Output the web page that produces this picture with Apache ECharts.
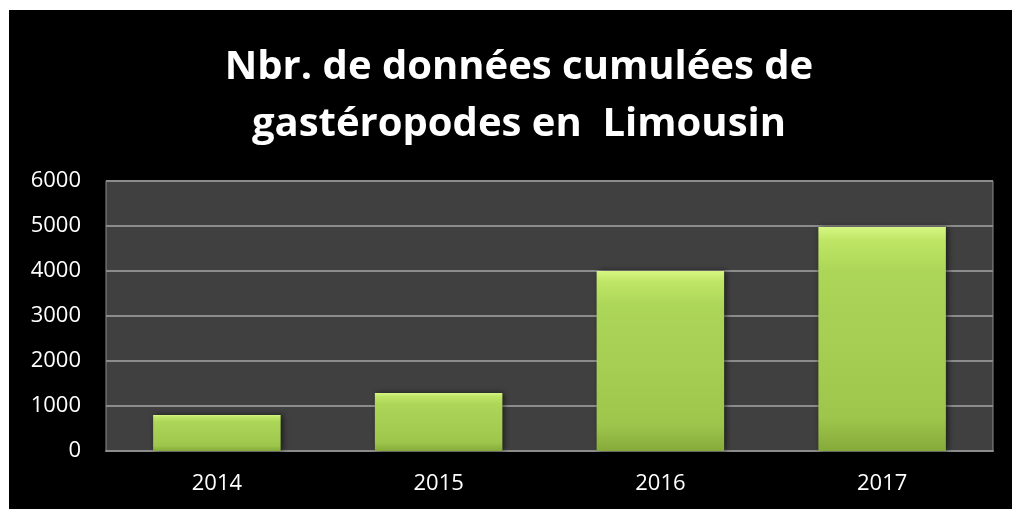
<!DOCTYPE html>
<html>
<head>
<meta charset="utf-8">
<script src="https://cdn.jsdelivr.net/npm/echarts@6/dist/echarts.min.js"></script>
<style>
html,body{margin:0;padding:0;background:#fff;width:1012px;height:509px;overflow:hidden;}
#chart{position:absolute;left:9px;top:10px;width:1003px;height:499px;background:#000;}
</style>
</head>
<body>
<div id="chart"></div>
<script>
var titleLines = ['Nbr. de données cumulées de', 'gastéropodes en  Limousin'];
var categories = ['2014', '2015', '2016', '2017'];
var values = [800, 1290, 4000, 4980];
var yTicks = { min: 0, max: 6000, interval: 1000 };

var chart = echarts.init(document.getElementById('chart'), null, { renderer: 'canvas' });
var barColor = {
  type: 'linear', x: 0, y: 0, x2: 0, y2: 1,
  colorStops: [
    { offset: 0, color: '#d6f784' },
    { offset: 0.06, color: '#bfe565' },
    { offset: 0.2, color: '#acd658' },
    { offset: 0.85, color: '#9ec64c' },
    { offset: 1, color: '#86aa3a' }
  ]
};
chart.setOption({
  backgroundColor: '#000',
  animation: false,
  title: {
    text: titleLines.join('\n'),
    left: 505,
    top: 24,
    textAlign: 'center',
    textStyle: {
      color: '#fff',
      fontFamily: 'Open Sans',
      fontWeight: 'bold',
      fontSize: 40,
      lineHeight: 57
    }
  },
  grid: {
    left: 97, right: 19, top: 171, bottom: 58,
    show: true,
    backgroundColor: '#404040',
    borderColor: '#8c8c8c',
    borderWidth: 1
  },
  xAxis: {
    type: 'category',
    data: categories,
    axisLine: { show: true, lineStyle: { color: '#8c8c8c', width: 2 } },
    axisTick: { show: false },
    axisLabel: { color: '#fff', fontFamily: 'Open Sans', fontSize: 22, margin: 22 }
  },
  yAxis: {
    type: 'value',
    min: yTicks.min, max: yTicks.max, interval: yTicks.interval,
    axisLine: { show: false },
    axisTick: { show: false },
    splitLine: { show: true, lineStyle: { color: '#8c8c8c', width: 2 } },
    axisLabel: {
      color: '#fff', fontFamily: 'Open Sans', fontSize: 22, margin: 25,
      formatter: function (v) { return String(v); }
    }
  },
  series: [{
    type: 'bar',
    data: values,
    barWidth: '57.5%',
    itemStyle: {
      color: barColor,
      shadowColor: 'rgba(0,0,0,0.6)',
      shadowBlur: 6,
      shadowOffsetX: 2,
      shadowOffsetY: 0
    }
  }]
});
</script>
</body>
</html>
